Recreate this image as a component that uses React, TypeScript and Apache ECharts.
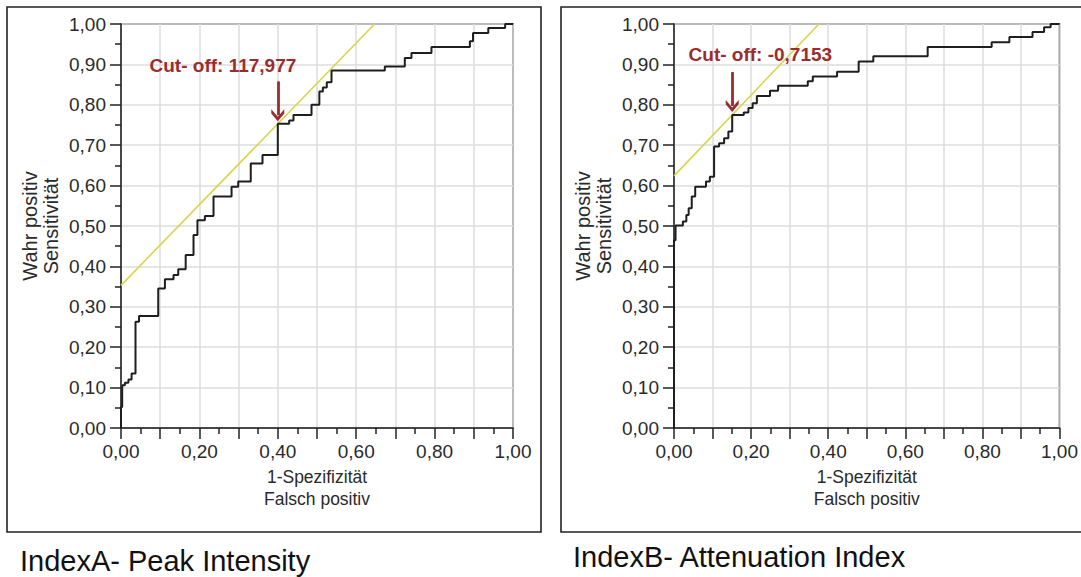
import React, { useEffect, useRef } from "react";
import * as echarts from "echarts";

// ---------- data ----------
// IndexA - Peak Intensity ROC curve (1-specificity, sensitivity)
const fprA = [0, 0, 0.003, 0.01, 0.019, 0.027, 0.037, 0.046, 0.095, 0.112, 0.134, 0.146, 0.165, 0.185, 0.195, 0.214, 0.236, 0.282, 0.299, 0.331, 0.361, 0.4, 0.429, 0.44, 0.486, 0.506, 0.515, 0.525, 0.537, 0.673, 0.724, 0.741, 0.792, 0.89, 0.898, 0.937, 0.98, 1.0];
const tprA = [0, 0.052, 0.106, 0.112, 0.12, 0.135, 0.263, 0.277, 0.345, 0.368, 0.379, 0.393, 0.428, 0.478, 0.514, 0.525, 0.573, 0.597, 0.61, 0.655, 0.676, 0.753, 0.761, 0.775, 0.8, 0.833, 0.843, 0.856, 0.885, 0.895, 0.916, 0.928, 0.943, 0.957, 0.978, 0.99, 1.0, 1.0];

// IndexB - Attenuation Index ROC curve
const fprB = [0, 0, 0.004, 0.023, 0.032, 0.038, 0.046, 0.055, 0.083, 0.093, 0.104, 0.117, 0.13, 0.141, 0.151, 0.181, 0.193, 0.204, 0.215, 0.249, 0.27, 0.347, 0.36, 0.423, 0.479, 0.517, 0.658, 0.824, 0.87, 0.93, 0.96, 0.977, 1.0];
const tprB = [0, 0.465, 0.501, 0.511, 0.527, 0.544, 0.573, 0.597, 0.61, 0.622, 0.697, 0.705, 0.717, 0.734, 0.775, 0.781, 0.792, 0.804, 0.822, 0.835, 0.847, 0.858, 0.87, 0.882, 0.907, 0.92, 0.943, 0.955, 0.968, 0.98, 0.992, 1.0, 1.0];

// Youden tangent lines (slope 1) through the cut-off points
const tangentAx = [0, 0.647];
const tangentAy = [0.353, 1.0];
const tangentBx = [0, 0.376];
const tangentBy = [0.624, 1.0];

// Cut-off annotations
const cutLabelA = "Cut- off: 117,977";
const cutLabelB = "Cut- off: -0,7153";
const cutLabelPosA = [0.26, 0.897];
const cutLabelPosB = [0.224, 0.925];
const arrowA = [[0.4, 0.858], [0.4, 0.774]];
const arrowB = [[0.151, 0.881], [0.151, 0.797]];

// Tick labels
const xTickLabels = ["0,00", "", "0,20", "", "0,40", "", "0,60", "", "0,80", "", "1,00"];
const yTickLabels = ["0,00", "0,10", "0,20", "0,30", "0,40", "0,50", "0,60", "0,70", "0,80", "0,90", "1,00"];

const xTitle = "1-Spezifizität\nFalsch positiv";
const yTitle = "Wahr positiv\nSensitivität";
const captionA = "IndexA- Peak Intensity";
const captionB = "IndexB- Attenuation Index";

// ---------- styles ----------
const FONT = "'Liberation Sans', Arial, Helvetica, sans-serif";
const INK = "#222";
const LABEL = "#2a2a2a";
const RED = "#9b2c2e";
const YELLOW = "#d8d54a";
const CHEVRON = "path://M5,0 L10,6.5 L10,10 L5,3.8 L0,10 L0,6.5 Z";

function pairs(xs: number[], ys: number[]) {
  return xs.map((x, i) => [x, ys[i]]);
}

function makeX(gridIndex: number) {
  return {
    type: "value",
    gridIndex,
    min: 0,
    max: 1,
    interval: 0.1,
    name: xTitle,
    nameLocation: "middle",
    nameGap: 38,
    nameTextStyle: { fontSize: 17.5, lineHeight: 22, color: LABEL, fontFamily: FONT },
    axisLine: { show: true, onZero: false, lineStyle: { color: INK, width: 1.5 } },
    axisTick: { show: true, length: 11, lineStyle: { color: INK, width: 1.5 } },
    minorTick: { show: true, splitNumber: 2, length: 6, lineStyle: { color: INK, width: 1.5 } },
    axisLabel: {
      margin: 14,
      fontSize: 19,
      color: LABEL,
      fontFamily: FONT,
      formatter: (v: number) => xTickLabels[Math.round(v * 10)] ?? "",
    },
    splitLine: { show: true, lineStyle: { color: "#dcdcdc", width: 1.5 } },
    minorSplitLine: { show: false },
  };
}

function makeY(gridIndex: number) {
  return {
    type: "value",
    gridIndex,
    min: 0,
    max: 1,
    interval: 0.1,
    name: yTitle,
    nameLocation: "middle",
    nameRotate: 90,
    nameGap: 60,
    nameTextStyle: { fontSize: 20, lineHeight: 21, color: LABEL, fontFamily: FONT },
    axisLine: { show: true, onZero: false, lineStyle: { color: INK, width: 1.5 } },
    axisTick: { show: true, length: 11, lineStyle: { color: INK, width: 1.5 } },
    minorTick: { show: true, splitNumber: 2, length: 6, lineStyle: { color: INK, width: 1.5 } },
    axisLabel: {
      margin: 15,
      fontSize: 19,
      color: LABEL,
      fontFamily: FONT,
      formatter: (v: number) => yTickLabels[Math.round(v * 10)] ?? "",
    },
    splitLine: { show: true, lineStyle: { color: "#dcdcdc", width: 1.5 } },
    minorSplitLine: { show: false },
  };
}

function tangentSeries(idx: number, xs: number[], ys: number[], label: string, labelPos: number[], arrow: number[][]) {
  return {
    type: "line",
    xAxisIndex: idx,
    yAxisIndex: idx,
    data: pairs(xs, ys),
    showSymbol: false,
    symbol: "none",
    silent: true,
    lineStyle: { color: YELLOW, width: 1.6 },
    z: 2,
    markLine: {
      silent: true,
      symbol: ["none", CHEVRON],
      symbolSize: [13, 12],
      lineStyle: { color: RED, width: 2.8, type: "solid" },
      itemStyle: { color: RED },
      label: { show: false },
      data: [[{ coord: arrow[0] }, { coord: arrow[1] }]],
    },
    markPoint: {
      silent: true,
      symbol: "rect",
      symbolSize: 1,
      itemStyle: { color: "rgba(0,0,0,0)" },
      label: {
        show: true,
        position: "inside",
        formatter: label,
        color: RED,
        fontWeight: "bold",
        fontSize: 19,
        fontFamily: FONT,
      },
      data: [{ coord: labelPos }],
    },
  };
}

function rocSeries(idx: number, xs: number[], ys: number[]) {
  return {
    type: "line",
    xAxisIndex: idx,
    yAxisIndex: idx,
    data: pairs(xs, ys),
    step: "end",
    showSymbol: false,
    symbol: "none",
    silent: true,
    lineStyle: { color: "#1e1e1e", width: 2 },
    z: 3,
  };
}

export default function App() {
  const ref = useRef<HTMLDivElement>(null);

  useEffect(() => {
    if (!ref.current) return;
    const chart = echarts.init(ref.current, undefined, { renderer: "svg" });
    chart.setOption({
      animation: false,
      backgroundColor: "#ffffff",
      textStyle: { fontFamily: FONT },
      grid: [
        { left: 121, top: 24, width: 392, height: 404, show: true, borderColor: INK, borderWidth: 1.5, backgroundColor: "transparent" },
        { left: 674, top: 24, width: 392, height: 404, show: true, borderColor: INK, borderWidth: 1.5, backgroundColor: "transparent" },
      ],
      xAxis: [makeX(0), makeX(1)],
      yAxis: [makeY(0), makeY(1)],
      series: [
        tangentSeries(0, tangentAx, tangentAy, cutLabelA, cutLabelPosA, arrowA),
        rocSeries(0, fprA, tprA),
        tangentSeries(1, tangentBx, tangentBy, cutLabelB, cutLabelPosB, arrowB),
        rocSeries(1, fprB, tprB),
      ],
      graphic: [
        { type: "rect", shape: { x: 7, y: 7, width: 534, height: 525 }, style: { fill: "none", stroke: INK, lineWidth: 1.6 }, silent: true },
        { type: "rect", shape: { x: 561, y: 7, width: 530, height: 525 }, style: { fill: "none", stroke: INK, lineWidth: 1.6 }, silent: true },
        { type: "text", x: 20, y: 561, style: { text: captionA, fontSize: 29, fontFamily: FONT, fill: "#111", textVerticalAlign: "middle" }, silent: true },
        { type: "text", x: 573, y: 557, style: { text: captionB, fontSize: 29, fontFamily: FONT, fill: "#111", textVerticalAlign: "middle" }, silent: true },
      ],
    });
    return () => chart.dispose();
  }, []);

  return (
    <div
      ref={ref}
      style={{ position: "absolute", left: 0, top: 0, width: 1081, height: 577, background: "#fff" }}
    />
  );
}
